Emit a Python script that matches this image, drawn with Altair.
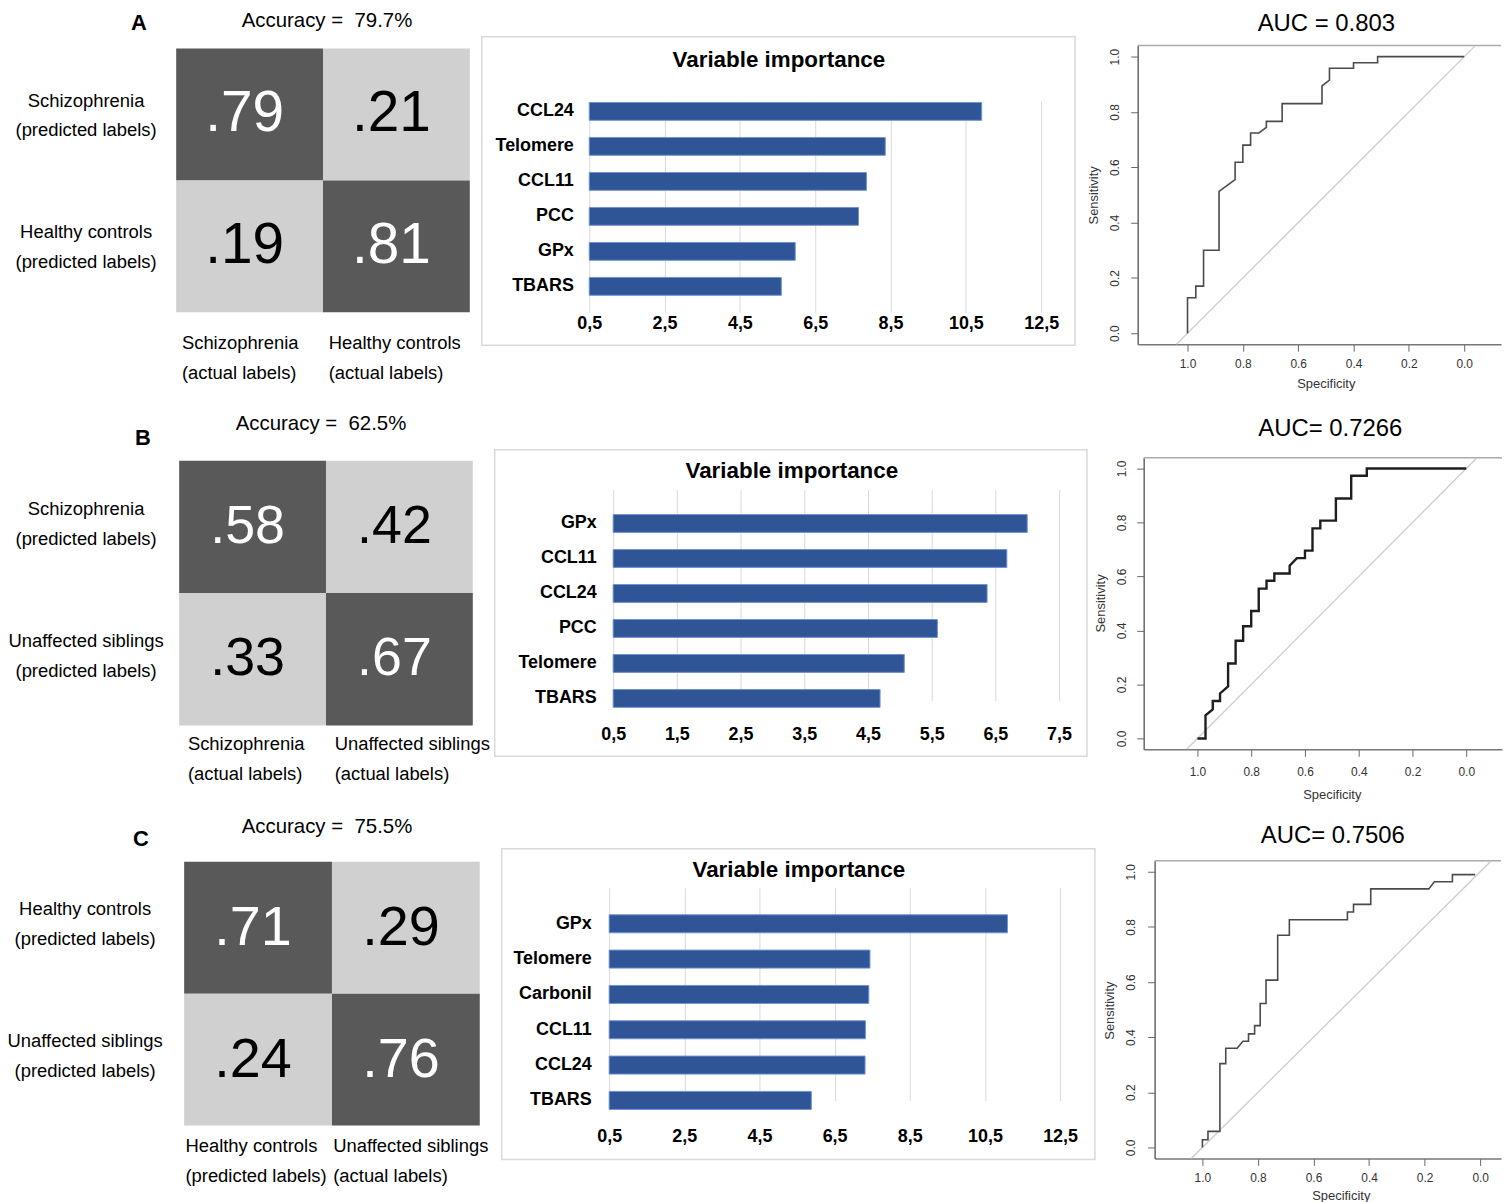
import altair as alt
import pandas as pd

FONT = "Liberation Sans"
NBSP = "\u00a0"

# ---------------- Panel A: schizophrenia vs healthy controls ----------------
cm_a_pred = ["Schizophrenia|(predicted labels)", "Healthy controls|(predicted labels)"]
cm_a_actual = ["Schizophrenia|(actual labels)", "Healthy controls|(actual labels)"]
cm_a_values = [[0.79, 0.21], [0.19, 0.81]]
acc_a = "Accuracy = " + NBSP + "79.7%"

imp_a_vars = ["CCL24", "Telomere", "CCL11", "PCC", "GPx", "TBARS"]
imp_a_vals = [10.92, 8.36, 7.86, 7.65, 5.97, 5.60]

roc_a_spec = [1.0, 1.0, 0.97, 0.97, 0.942, 0.942, 0.886, 0.886, 0.828, 0.828, 0.80, 0.80,
              0.772, 0.772, 0.742, 0.715, 0.715, 0.658, 0.658, 0.514, 0.514, 0.487, 0.487,
              0.40, 0.40, 0.313, 0.313, 0.0]
roc_a_sens = [0.0, 0.128, 0.128, 0.17, 0.17, 0.30, 0.30, 0.513, 0.555, 0.618, 0.618, 0.68,
              0.68, 0.724, 0.724, 0.744, 0.766, 0.766, 0.83, 0.83, 0.894, 0.915, 0.958,
              0.958, 0.978, 0.978, 1.0, 1.0]
auc_a = "AUC = 0.803"

# ---------------- Panel B: schizophrenia vs unaffected siblings ----------------
cm_b_pred = ["Schizophrenia|(predicted labels)", "Unaffected siblings|(predicted labels)"]
cm_b_actual = ["Schizophrenia|(actual labels)", "Unaffected siblings|(actual labels)"]
cm_b_values = [[0.58, 0.42], [0.33, 0.67]]
acc_b = "Accuracy = " + NBSP + "62.5%"

imp_b_vars = ["GPx", "CCL11", "CCL24", "PCC", "Telomere", "TBARS"]
imp_b_vals = [7.00, 6.68, 6.37, 5.59, 5.07, 4.69]

roc_b_spec = [1.0, 0.97, 0.97, 0.943, 0.943, 0.916, 0.916, 0.886, 0.886, 0.858, 0.858, 0.83,
              0.83, 0.80, 0.80, 0.772, 0.772, 0.743, 0.743, 0.714, 0.714, 0.657, 0.657, 0.63,
              0.60, 0.60, 0.572, 0.572, 0.543, 0.543, 0.485, 0.485, 0.428, 0.428, 0.37, 0.37, 0.0]
roc_b_sens = [0.0, 0.0, 0.086, 0.108, 0.139, 0.139, 0.167, 0.193, 0.278, 0.278, 0.362, 0.362,
              0.416, 0.416, 0.472, 0.472, 0.555, 0.555, 0.584, 0.584, 0.611, 0.611, 0.64, 0.668,
              0.668, 0.696, 0.696, 0.778, 0.778, 0.807, 0.807, 0.889, 0.889, 0.973, 0.973, 1.0, 1.0]
auc_b = "AUC= 0.7266"

# ---------------- Panel C: healthy controls vs unaffected siblings ----------------
cm_c_pred = ["Healthy controls|(predicted labels)", "Unaffected siblings|(predicted labels)"]
cm_c_actual = ["Healthy controls|(predicted labels)", "Unaffected siblings|(actual labels)"]
cm_c_values = [[0.71, 0.29], [0.24, 0.76]]
acc_c = "Accuracy = " + NBSP + "75.5%"

imp_c_vars = ["GPx", "Telomere", "Carbonil", "CCL11", "CCL24", "TBARS"]
imp_c_vals = [11.10, 7.44, 7.41, 7.32, 7.31, 5.88]

roc_c_spec = [1.0, 1.0, 0.98, 0.98, 0.937, 0.937, 0.916, 0.916, 0.875, 0.854, 0.834, 0.834,
              0.812, 0.812, 0.792, 0.792, 0.771, 0.771, 0.729, 0.729, 0.687, 0.687, 0.478,
              0.478, 0.456, 0.456, 0.394, 0.394, 0.185, 0.165, 0.10, 0.10, 0.018]
roc_c_sens = [0.0, 0.028, 0.028, 0.058, 0.058, 0.304, 0.304, 0.36, 0.36, 0.385, 0.385, 0.412,
              0.412, 0.442, 0.442, 0.522, 0.522, 0.607, 0.607, 0.77, 0.77, 0.826, 0.826,
              0.854, 0.854, 0.882, 0.882, 0.938, 0.938, 0.964, 0.964, 0.99, 0.99]
auc_c = "AUC= 0.7506"

ROC_TICKS = [0.0, 0.2, 0.4, 0.6, 0.8, 1.0]
ONE = pd.DataFrame({"k": [0]})
ROW_H = 400


# Every panel fills one grid cell; the plotting box inside it is set through the
# scale ranges, and the axes are pulled in to the box edges with negative offsets.

def confusion_panel(letter, letter_xy, accuracy, acc_xy, pred, actual, values, cell_w,
                    box, y_pad, y_offset, x_pad, x_offset, num_size):
    left, right, top, bottom = box
    rows = []
    for i, p in enumerate(pred):
        for j, a in enumerate(actual):
            rows.append({"pred": p, "actual": a, "value": values[i][j],
                         "kind": "hit" if i == j else "miss"})
    df = pd.DataFrame(rows)

    x = alt.X("actual:N", sort=actual,
              scale=alt.Scale(range=[left, right], paddingInner=0, paddingOuter=0),
              axis=alt.Axis(offset=-(ROW_H - bottom),
                            title=accuracy, titleX=acc_xy[0], titleY=acc_xy[1] - bottom,
                            titleAlign="center", titleBaseline="alphabetic", titleFont=FONT,
                            titleFontSize=20.5, titleFontWeight="normal", titleColor="black",
                            labelExpr="split(datum.label, '|')", labelFont=FONT,
                            labelFontSize=18.5, labelColor="black", labelAlign="left",
                            labelBaseline="top", labelAngle=0, labelPadding=x_pad,
                            labelOffset=x_offset, labelLineHeight=30, labelLimit=400,
                            labelOverlap=False, domain=False, ticks=False, tickSize=0, grid=False))
    y = alt.Y("pred:N", sort=pred,
              scale=alt.Scale(range=[top, bottom], paddingInner=0, paddingOuter=0),
              axis=alt.Axis(offset=-left,
                            title=letter, titleAngle=0, titleX=letter_xy[0] - left,
                            titleY=letter_xy[1], titleAlign="center", titleBaseline="middle",
                            titleFont=FONT, titleFontSize=22, titleFontWeight="bold",
                            titleColor="black",
                            labelExpr="split(datum.label, '|')", labelFont=FONT,
                            labelFontSize=18.5, labelColor="black", labelAlign="center",
                            labelBaseline="middle", labelPadding=y_pad, labelOffset=y_offset,
                            labelLineHeight=30, labelLimit=400, labelOverlap=False,
                            domain=False, ticks=False, tickSize=0, grid=False))

    cells = alt.Chart(df).mark_rect().encode(
        x=x, y=y,
        color=alt.Color("kind:N", scale=alt.Scale(domain=["hit", "miss"],
                                                  range=["#595959", "#d0d0d0"]), legend=None),
    )
    nums = alt.Chart(df).transform_calculate(
        txt="substring(format(datum.value, '.2f'), 1)"
    ).mark_text(font=FONT, fontSize=num_size, dx=-5).encode(
        x=x, y=y, text="txt:N",
        color=alt.condition("datum.kind == 'hit'", alt.value("white"), alt.value("black")),
    )
    return alt.layer(cells, nums).properties(width=cell_w, height=ROW_H)


def importance_panel(names, vals, xmax, tick_vals, cell_w, box, frame, title_xy,
                     y_pad, x_pad):
    left, right, top, bottom = box
    df = pd.DataFrame({"variable": names, "importance": vals})
    x = alt.X("importance:Q",
              scale=alt.Scale(domain=[0.5, xmax], range=[left, right], nice=False, zero=False),
              axis=alt.Axis(offset=-(ROW_H - bottom), values=tick_vals,
                            title="Variable importance", titleX=title_xy[0],
                            titleY=title_xy[1] - bottom, titleAlign="center",
                            titleBaseline="alphabetic", titleFont=FONT, titleFontSize=22.5,
                            titleFontWeight="bold", titleColor="black",
                            labelExpr="replace(format(datum.value, '.1f'), '.', ',')",
                            labelFont=FONT, labelFontSize=18, labelFontWeight="bold",
                            labelColor="black", labelPadding=x_pad, labelFlush=False,
                            labelOverlap=False, grid=True, gridColor="#d9d9d9", gridWidth=1,
                            domain=False, ticks=False, tickSize=0))
    y = alt.Y("variable:N", sort=names,
              scale=alt.Scale(range=[top, bottom], paddingInner=0.49, paddingOuter=0.26),
              axis=alt.Axis(offset=-left, title=None, labelFont=FONT, labelFontSize=18,
                            labelFontWeight="bold", labelColor="black", labelPadding=y_pad,
                            labelLimit=300, domain=False, ticks=False, tickSize=0, grid=False))
    bars = alt.Chart(df).mark_bar(color="#2f5597", stroke="#6f93d3", strokeWidth=1).encode(
        x=x, x2=alt.datum(0.5), y=y
    )
    fl, fr, ft, fb = frame
    outline = alt.Chart(ONE).mark_rect(filled=False, stroke="#d9d9d9", strokeWidth=1.5).encode(
        x=alt.value(fl), x2=alt.value(fr), y=alt.value(ft), y2=alt.value(fb)
    )
    return alt.layer(outline, bars).properties(width=cell_w, height=ROW_H)


def roc_panel(spec, sens, auc, xdom, cell_w, box, line_color, line_width,
              auc_dx, auc_offset, ytitle_xy, xtitle_xy, x_pad, y_pad):
    left, right, top, bottom = box
    ydom = (-0.04, 1.04)
    curve = pd.DataFrame({"spec": spec, "sens": sens, "step": list(range(len(spec)))})
    chance = pd.DataFrame({"spec": [1.04, -0.04], "sens": [-0.04, 1.04], "step": [0, 1]})

    x = alt.X("spec:Q",
              scale=alt.Scale(domain=[xdom[1], xdom[0]], range=[right, left],
                              nice=False, zero=False),
              axis=alt.Axis(offset=-(ROW_H - bottom), values=ROC_TICKS, format=".1f",
                            title="Specificity", titleX=xtitle_xy[0],
                            titleY=xtitle_xy[1] - bottom, titleAlign="center",
                            titleBaseline="middle", titleFont=FONT, titleFontSize=13,
                            titleFontWeight="normal", titleColor="#333333",
                            labelFont=FONT, labelFontSize=12, labelColor="#333333",
                            labelAngle=0, labelAlign="center", labelBaseline="top",
                            labelPadding=x_pad, labelFlush=False, labelOverlap=False,
                            tickSize=7, tickColor="#666666", tickWidth=1,
                            domainColor="#777777", domainWidth=1.5, grid=False))
    y = alt.Y("sens:Q",
              scale=alt.Scale(domain=list(ydom), range=[bottom, top], nice=False, zero=False),
              axis=alt.Axis(offset=-left, values=ROC_TICKS, format=".1f",
                            title="Sensitivity", titleAngle=270,
                            titleX=ytitle_xy[0] - left, titleY=ytitle_xy[1],
                            titleAlign="center", titleBaseline="middle", titleFont=FONT,
                            titleFontSize=13, titleFontWeight="normal", titleColor="#333333",
                            labelFont=FONT, labelFontSize=12, labelColor="#333333",
                            labelAngle=270, labelAlign="center", labelBaseline="bottom",
                            labelPadding=y_pad, labelFlush=False, labelOverlap=False,
                            tickSize=7, tickColor="#666666", tickWidth=1,
                            domainColor="#666666", domainWidth=1.5, grid=False))

    top_edge = alt.Chart(ONE).mark_rule(color="#aaaaaa", strokeWidth=1.5).encode(
        x=alt.datum(xdom[0]), x2=alt.datum(xdom[1]), y=alt.datum(ydom[1])
    )
    diag = alt.Chart(chance).mark_line(color="#cccccc", strokeWidth=1.3).encode(
        x=x, y=y, order=alt.Order("step:Q")
    )
    roc = alt.Chart(curve).mark_line(color=line_color, strokeWidth=line_width).encode(
        x=x, y=y, order=alt.Order("step:Q")
    )
    return alt.layer(top_edge, diag, roc).properties(
        width=cell_w, height=ROW_H,
        title=alt.TitleParams(text=auc, frame="group", anchor="middle", dx=auc_dx,
                              offset=auc_offset, baseline="alphabetic", font=FONT,
                              fontSize=24, fontWeight="normal", color="black"),
    )


ticks_wide = [0.5, 2.5, 4.5, 6.5, 8.5, 10.5, 12.5]
ticks_narrow = [0.5, 1.5, 2.5, 3.5, 4.5, 5.5, 6.5, 7.5]

row_a = alt.hconcat(
    confusion_panel("A", (138, 19), acc_a, (327, 23), cm_a_pred, cm_a_actual, cm_a_values,
                    cell_w=478, box=(176, 471, 45, 310), y_pad=91, y_offset=-14,
                    x_pad=21, x_offset=-68, num_size=57),
    importance_panel(imp_a_vars, imp_a_vals, 12.5, ticks_wide, cell_w=602,
                     box=(111, 565, 90, 302), frame=(3, 599, 33, 343), title_xy=(301, 63),
                     y_pad=16, x_pad=10),
    roc_panel(roc_a_spec, roc_a_sens, auc_a, (1.18, -0.133), cell_w=425,
              box=(58, 423, 42, 342), line_color="#4a4a4a", line_width=1.6,
              auc_dx=35, auc_offset=-51, ytitle_xy=(14, 192), xtitle_xy=(247, 381),
              x_pad=7, y_pad=9),
    spacing=0,
)

row_b = alt.hconcat(
    confusion_panel("B", (142, 34), acc_b, (321, 26), cm_b_pred, cm_b_actual, cm_b_values,
                    cell_w=490, box=(179, 474, 57, 323), y_pad=94, y_offset=-18,
                    x_pad=9, x_offset=-65, num_size=54),
    importance_panel(imp_b_vars, imp_b_vals, 7.5, ticks_narrow, cell_w=600,
                     box=(122, 570, 102, 314), frame=(3, 598, 46, 354), title_xy=(301, 74),
                     y_pad=17, x_pad=9),
    roc_panel(roc_b_spec, roc_b_sens, auc_b, (1.2, -0.133), cell_w=415,
              box=(53, 413, 54, 347), line_color="#1e1e1e", line_width=2.4,
              auc_dx=33, auc_offset=-56, ytitle_xy=(10, 200), xtitle_xy=(242, 392),
              x_pad=10, y_pad=8),
    spacing=0,
)

row_c = alt.hconcat(
    confusion_panel("C", (140, 35), acc_c, (327, 29), cm_c_pred, cm_c_actual, cm_c_values,
                    cell_w=496, box=(184, 481, 58, 323), y_pad=100, y_offset=-19,
                    x_pad=11, x_offset=-73, num_size=56),
    importance_panel(imp_c_vars, imp_c_vals, 12.5, ticks_wide, cell_w=603,
                     box=(113, 566, 102, 316), frame=(5, 601, 45, 357), title_xy=(303, 73),
                     y_pad=18, x_pad=9),
    roc_panel(roc_c_spec, roc_c_sens, auc_c, (1.172, -0.075), cell_w=406,
              box=(56, 404, 57, 356), line_color="#4a4a4a", line_width=1.6,
              auc_dx=32, auc_offset=-63, ytitle_xy=(11, 207), xtitle_xy=(243, 393),
              x_pad=7, y_pad=10),
    spacing=0,
)

chart = alt.vconcat(row_a, row_b, row_c, spacing=0).properties(
    padding=0
).configure(
    font=FONT, background="white"
).configure_view(
    stroke="transparent"
)

chart.save("out.html", embed_options={"renderer": "svg", "actions": False})
